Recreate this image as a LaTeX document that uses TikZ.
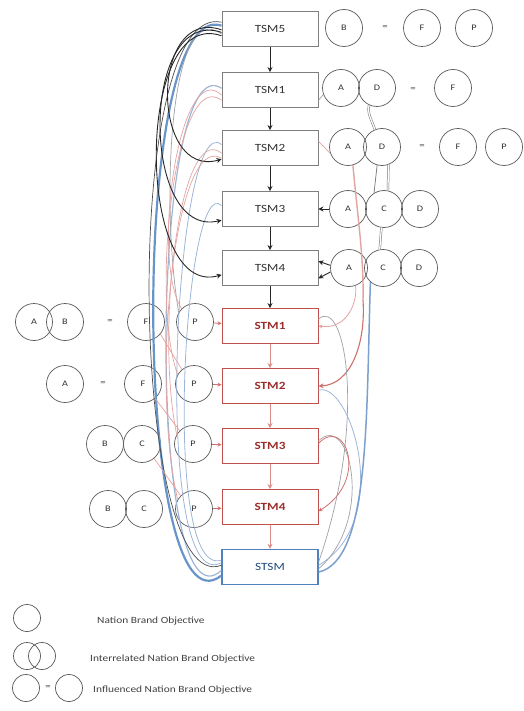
\documentclass[tikz,border=0pt]{standalone}
\usepackage{fontspec}
\setmainfont[FakeStretch=1.2]{Carlito}
\usetikzlibrary{arrows.meta}
\definecolor{tsmgray}{HTML}{7F7F7F}
\definecolor{stmred}{HTML}{C0504D}
\definecolor{stmtext}{HTML}{9B2D2A}
\definecolor{stsmblue}{HTML}{4F81BD}
\definecolor{stsmtext}{HTML}{1F497D}
\definecolor{linkpink}{HTML}{E3A3A1}
\definecolor{linkred}{HTML}{D0706C}
\definecolor{linkblue}{HTML}{9DB5D6}
\definecolor{linkgray}{HTML}{A0A0A8}
\begin{document}
\begin{tikzpicture}[x=1pt,y=-1pt,
 tsmbox/.style={draw=tsmgray, line width=0.9pt, fill=white, minimum width=96pt, minimum height=35pt, inner sep=0pt, font=\fontsize{11}{12}\selectfont, text=black!80},
 stmbox/.style={tsmbox, draw=stmred, text=stmtext, font=\fontsize{11}{12}\selectfont\bfseries},
 stsmbox/.style={tsmbox, draw=stsmblue, line width=1.3pt, text=stsmtext},
 obj/.style={circle, draw=black!65, line width=0.7pt, minimum size=37pt, inner sep=0pt, font=\fontsize{8.5}{10}\selectfont, text=black!80},
 eqs/.style={font=\fontsize{9}{10}\selectfont, text=black!70, inner sep=0pt},
 legobj/.style={obj, minimum size=27pt},
 legtext/.style={anchor=west, font=\fontsize{9.5}{10}\selectfont, text=black!75, inner sep=0pt},
 chainarr/.style={-{Stealth[length=5pt,width=5pt]}, line width=0.8pt, black!85},
 redchain/.style={-{Stealth[length=5pt,width=5pt]}, line width=0.8pt, linkred!80},
 blkarr/.style={-{Stealth[length=5pt,width=5pt]}, line width=0.9pt, black!85},
 redarr/.style={-{Stealth[length=4pt,width=4pt]}, line width=0.8pt, linkred},
 pinkline/.style={line width=0.7pt, linkpink},
 blueline/.style={line width=0.8pt, linkblue},
 grayline/.style={line width=0.7pt, linkgray},
 dbl/.style={draw=black!55, line width=0.5pt, double=white, double distance=1.3pt},
]
\useasboundingbox (0,0) rectangle (523,711);

% ---------- boxes ----------
\node[tsmbox] (tsm5) at (270,29) {TSM5};
\node[tsmbox] (tsm1) at (270,90) {TSM1};
\node[tsmbox] (tsm2) at (270,148) {TSM2};
\node[tsmbox] (tsm3) at (270,209) {TSM3};
\node[tsmbox] (tsm4) at (270,268) {TSM4};
\node[stmbox] (stm1) at (270,326) {STM1};
\node[stmbox] (stm2) at (270,386) {STM2};
\node[stmbox] (stm3) at (270,446) {STM3};
\node[stmbox] (stm4) at (270,507) {STM4};
\node[stsmbox] (stsm) at (270,567) {STSM};

% ---------- right objectives ----------
\node[obj] (b5) at (344,28) {B};
\node[eqs] (eq5) at (385,28) {=};
\node[obj] (f5) at (422,28) {F};
\node[obj] (p5) at (474,28) {P};

\node[obj] (a1) at (341,88) {A};
\node[obj] (d1) at (377,88) {D};
\node[eqs] (eq1) at (413,90) {=};
\node[obj] (f1) at (453,88) {F};

\node[obj] (a2) at (348,147) {A};
\node[obj] (d2) at (382,147) {D};
\node[eqs] (eq2) at (422,147) {=};
\node[obj] (f2) at (458,147) {F};
\node[obj] (p2) at (504,147) {P};

\node[obj] (a3) at (348,209) {A};
\node[obj] (c3) at (384,209) {C};
\node[obj] (d3) at (420,209) {D};

\node[obj] (a4) at (349,268) {A};
\node[obj] (c4) at (383,268) {C};
\node[obj] (d4) at (419,268) {D};

% ---------- left objectives ----------
\node[obj] (la1) at (34,322) {A};
\node[obj] (lb1) at (65,322) {B};
\node[eqs] (leq1) at (110,322) {=};
\node[obj] (lf1) at (146,322) {F};
\node[obj] (lp1) at (195,322) {P};

\node[obj] (la2) at (65,384) {A};
\node[eqs] (leq2) at (103,384) {=};
\node[obj] (lf2) at (143,384) {F};
\node[obj] (lp2) at (194,384) {P};

\node[obj] (lb3) at (105,444) {B};
\node[obj] (lc3) at (142,444) {C};
\node[obj] (lp3) at (193,444) {P};

\node[obj] (lb4) at (108,509) {B};
\node[obj] (lc4) at (144,509) {C};
\node[obj] (lp4) at (194,509) {P};

% ---------- legend ----------
\node[legobj] (g1) at (27,618) {};
\node[legtext] (t1) at (97,621) {Nation Brand Objective};
\node[legobj] (g2a) at (27,656) {};
\node[legobj] (g2b) at (42,656) {};
\node[legtext] (t2) at (90,659) {Interrelated Nation Brand Objective};
\node[legobj] (g3a) at (26,688) {};
\node[eqs] (g3eq) at (48,688) {=};
\node[legobj] (g3b) at (69,688) {};
\node[legtext] (t3) at (93,690) {Influenced Nation Brand Objective};

% ---------- vertical chains ----------
\foreach \a/\b in {tsm5/tsm1, tsm1/tsm2, tsm2/tsm3, tsm3/tsm4, tsm4/stm1}
  \draw[chainarr] (\a) -- (\b);
\foreach \a/\b in {stm1/stm2, stm2/stm3, stm3/stm4, stm4/stsm}
  \draw[redchain] (\a) -- (\b);

% ---------- left side curves ----------
\draw[line width=2.2pt, stsmblue!85] (tsm5.176) .. controls (128,-5) and (133,645) .. (stsm.190);
\draw[line width=1.2pt, linkblue] (tsm1.178) .. controls (150,40) and (145,640) .. (stsm.184);
\draw[line width=0.7pt, black!70] (tsm5.172) .. controls (120,0) and (130,600) .. (stsm.178);
\draw[blueline] (tsm2.176) .. controls (175,105) and (150,600) .. (stsm.175);
\draw[blueline] (tsm3.176) .. controls (185,170) and (160,580) .. (stsm.172);
\draw[grayline] (tsm5.186) .. controls (170,-5) and (160,200) .. (lp1.150);
\draw[pinkline] (tsm1.186) .. controls (180,55) and (150,260) .. (lp1.135);
\draw[pinkline] (tsm1.192) .. controls (175,65) and (150,300) .. (lp2.150);
\draw[pinkline] (tsm2.186) .. controls (180,120) and (155,330) .. (lp3.150);
\draw[pinkline] (tsm2.192) .. controls (175,130) and (150,380) .. (lp4.150);

\draw[blkarr] (tsm5.181) .. controls (150,5) and (150,180) .. (tsm2.193);
\draw[blkarr] (tsm5.184) .. controls (140,5) and (140,240) .. (tsm3.193);
\draw[blkarr] (tsm5.188) .. controls (135,5) and (135,300) .. (tsm4.188);

\draw[pinkline] (lf1.-40) -- (lp2.130);
\draw[pinkline] (lf2.-50) -- (lp3.135);
\draw[pinkline] (lc3.-50) -- (lp4.135);

\foreach \p/\s in {lp1/stm1, lp2/stm2, lp3/stm3, lp4/stm4}
  \draw[redarr] (\p) -- (\s);

% ---------- right side ----------
\draw[blkarr] (a3) -- (tsm3);
\draw[blkarr] (a4.172) -- (tsm4.8);
\draw[blkarr] (a4.192) -- (tsm4.-12);
\draw[pinkline] (a2.200) -- (tsm2.8);
\draw[grayline] (a1.200) -- (tsm1.-12);

\draw[dbl] (d1.245) .. controls (368,112) .. (d2.112);
\draw[grayline, black!55] (d2.255) -- (c3.122);
\draw[dbl] (d2.290) -- (c3.78);
\draw[dbl] (c3.262) -- (c4.100);

\draw[line width=1.4pt, linkpink] (a2.285) .. controls (358,220) and (364,260) .. (363,300);
\draw[-{Stealth[length=5pt,width=5pt]}, line width=1.1pt, linkred] (363,300) .. controls (366,345) and (350,385) .. (stm2.east);
\draw[redarr, linkpink] (a4.290) .. controls (358,300) and (348,330) .. (stm1.east);
\draw[grayline] (stm1.8) .. controls (345,295) and (368,420) .. (stsm.6);
\draw[blueline] (stm2.-5) .. controls (350,380) and (395,520) .. (stsm.2);
\draw[grayline] (stm3.6) .. controls (350,410) and (375,520) .. (stsm.-2);
\draw[redarr] (stm3.3) .. controls (345,415) and (370,480) .. (stm4.-5);
\draw[line width=1.5pt, stsmblue!75] (c4.228) .. controls (366,420) and (370,560) .. (stsm.-6);
\end{tikzpicture}
\end{document}
